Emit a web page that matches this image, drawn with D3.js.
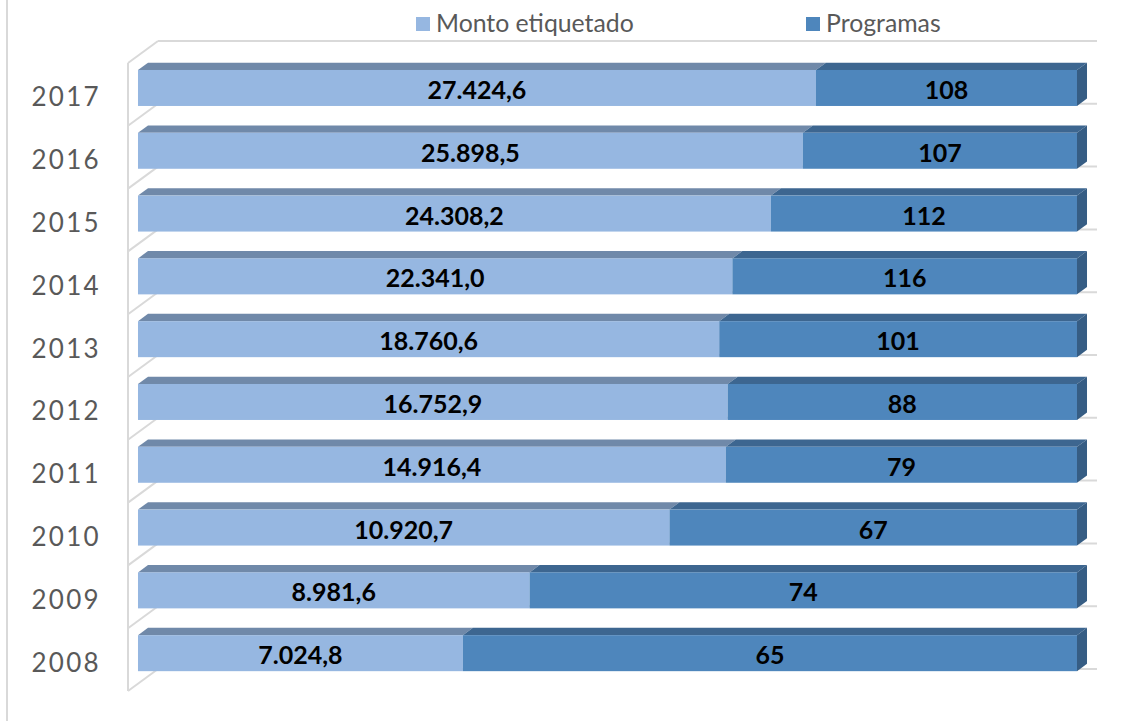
<!DOCTYPE html>
<html>
<head>
<meta charset="utf-8">
<script src="https://cdn.jsdelivr.net/npm/d3@7/dist/d3.min.js"></script>
<style>
  html, body { margin: 0; padding: 0; background: #ffffff; }
  svg { display: block; }
</style>
</head>
<body>
<svg id="chart" width="1123" height="721"></svg>
<script>
// ---- data ----
const years = ["2017", "2016", "2015", "2014", "2013", "2012", "2011", "2010", "2009", "2008"];
const monto = [27424.6, 25898.5, 24308.2, 22341.0, 18760.6, 16752.9, 14916.4, 10920.7, 8981.6, 7024.8];
const programas = [108, 107, 112, 116, 101, 88, 79, 67, 74, 65];
// share of each bar's length taken by "Monto etiquetado"
const montoShare = [0.722, 0.708, 0.674, 0.633, 0.619, 0.628, 0.626, 0.566, 0.417, 0.346];
const seriesNames = ["Monto etiquetado", "Programas"];

// ---- styles ----
const colors = {
  montoFront: "#96B7E1", montoTop: "#7089A9",
  progFront: "#4E86BC", progTop: "#3D6690", progSide: "#365D84",
  grid: "#D9D9D9", text: "#595959"
};

const svg = d3.select("#chart");
const esLocale = d3.formatLocale({ decimal: ",", thousands: ".", grouping: [3], currency: ["", ""] });
const fmtMonto = esLocale.format(",.1f");

// back-plane scales
const x = d3.scaleLinear().domain([0, 1]).range([158, 1097]);
const y = d3.scaleBand().domain(years).range([41, 669]).paddingInner(0).paddingOuter(0);
const step = y.step();
const barH = step * 0.573;
const barOff = (step - barH) / 2 + 0.9;

// depth projection: t in [0,1] from back plane to front wall
const DX = -30, DY = 22;
const tBack = 0.333, tFront = 0.667;
const P = (px, py, t) => [px + DX * t, py + DY * t];
const poly = pts => "M" + pts.map(p => p.join(",")).join("L") + "Z";

// outer chart border (left edge visible)
svg.append("line").attr("x1", 7).attr("x2", 7).attr("y1", 0).attr("y2", 721)
  .attr("stroke", colors.grid).attr("stroke-width", 2);

// gridlines on back plane + floor diagonals on left wall
const bounds = d3.range(years.length + 1).map(i => 41 + i * step);
const gridG = svg.append("g");
bounds.forEach(b => {
  gridG.append("line").attr("x1", x(0)).attr("x2", x(1)).attr("y1", b).attr("y2", b)
    .attr("stroke", colors.grid).attr("stroke-width", 2);
  const f = P(x(0), b, 1);
  gridG.append("line").attr("x1", x(0)).attr("y1", b).attr("x2", f[0]).attr("y2", f[1])
    .attr("stroke", colors.grid).attr("stroke-width", 2);
});
// front edge of left wall
const wt = P(x(0), bounds[0], 1), wb = P(x(0), bounds[bounds.length - 1], 1);
gridG.append("line").attr("x1", wt[0]).attr("y1", wt[1]).attr("x2", wb[0]).attr("y2", wb[1])
  .attr("stroke", colors.grid).attr("stroke-width", 2);

// bars
const barsG = svg.append("g");
years.forEach((yr, i) => {
  const y0 = y(yr) + barOff, y1 = y0 + barH;
  const s = montoShare[i];
  const segs = [
    { a: 0, b: s, front: colors.montoFront, top: colors.montoTop },
    { a: s, b: 1, front: colors.progFront, top: colors.progTop }
  ];
  segs.forEach((sg, k) => {
    const xa = x(sg.a), xb = x(sg.b);
    // top face
    barsG.append("path").attr("d", poly([P(xa, y0, tBack), P(xb, y0, tBack), P(xb, y0, tFront), P(xa, y0, tFront)]))
      .attr("fill", sg.top);
    // front face
    const fa = P(xa, y0, tFront), fb = P(xb, y1, tFront);
    barsG.append("rect").attr("x", fa[0]).attr("y", fa[1]).attr("width", fb[0] - fa[0]).attr("height", fb[1] - fa[1])
      .attr("fill", sg.front);
  });
  // right side face
  const xe = x(1);
  barsG.append("path").attr("d", poly([P(xe, y0, tFront), P(xe, y0, tBack), P(xe, y1, tBack), P(xe, y1, tFront)]))
    .attr("fill", colors.progSide);

  // labels
  const fy = (P(0, y0, tFront)[1] + P(0, y1, tFront)[1]) / 2;
  const fx0 = P(x(0), 0, tFront)[0], fxs = P(x(s), 0, tFront)[0], fx1 = P(x(1), 0, tFront)[0];
  barsG.append("text").attr("x", (fx0 + fxs) / 2).attr("y", fy + 1)
    .attr("text-anchor", "middle").attr("dominant-baseline", "central")
    .attr("font-family", "Lato, 'Open Sans', sans-serif").attr("font-weight", "bold").attr("font-size", 25)
    .attr("fill", "#000").text(fmtMonto(monto[i]));
  barsG.append("text").attr("x", (fxs + fx1) / 2).attr("y", fy + 1)
    .attr("text-anchor", "middle").attr("dominant-baseline", "central")
    .attr("font-family", "Lato, 'Open Sans', sans-serif").attr("font-weight", "bold").attr("font-size", 25)
    .attr("fill", "#000").text(programas[i]);

  // category label
  const cy = P(0, y(yr) + step / 2, 1)[1] + 2;
  svg.append("text").attr("x", 101).attr("y", cy)
    .attr("text-anchor", "end").attr("dominant-baseline", "central")
    .attr("font-family", "Lato, 'Open Sans', sans-serif").attr("font-size", 26)
    .attr("letter-spacing", "2.3px").attr("fill", colors.text).text(yr);
});

// legend
const legend = [
  { name: seriesNames[0], color: colors.montoFront, x: 416 },
  { name: seriesNames[1], color: colors.progFront, x: 806 }
];
legend.forEach(l => {
  svg.append("rect").attr("x", l.x).attr("y", 17).attr("width", 14).attr("height", 14).attr("fill", l.color);
  svg.append("text").attr("x", l.x + 20).attr("y", 32)
    .attr("font-family", "Lato, 'Open Sans', sans-serif").attr("font-size", 24.8)
    .attr("fill", colors.text).text(l.name);
});
</script>
</body>
</html>
